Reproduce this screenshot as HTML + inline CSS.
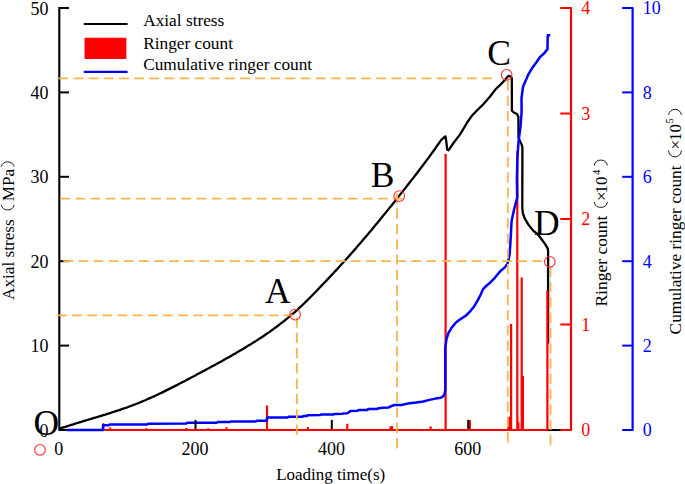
<!DOCTYPE html>
<html><head><meta charset="utf-8"><style>
html,body{margin:0;padding:0;background:#fff;}
svg{display:block;}
text{font-family:"Liberation Serif",serif;}
</style></head><body>
<svg width="685" height="484" viewBox="0 0 685 484">
<rect width="685" height="484" fill="#fff"/>
<path d="M69,8.0 H59.3 V430.0 H571" fill="none" stroke="#000" stroke-width="2.1"/>
<line x1="59.3" y1="345.6" x2="69" y2="345.6" stroke="#000" stroke-width="2"/>
<line x1="59.3" y1="261.2" x2="69" y2="261.2" stroke="#000" stroke-width="2"/>
<line x1="59.3" y1="176.8" x2="69" y2="176.8" stroke="#000" stroke-width="2"/>
<line x1="59.3" y1="92.4" x2="69" y2="92.4" stroke="#000" stroke-width="2"/>
<path d="M59.3,428.8 L61.3,428.1 L63.3,427.4 L65.3,426.8 L67.3,426.1 L69.3,425.5 L71.3,424.9 L73.3,424.3 L75.3,423.6 L77.3,423.0 L79.3,422.4 L81.3,421.8 L83.3,421.2 L85.3,420.6 L87.3,420.0 L89.3,419.4 L91.3,418.8 L93.3,418.2 L95.3,417.6 L97.3,417.0 L99.3,416.4 L101.3,415.8 L103.3,415.2 L105.3,414.6 L107.3,413.9 L109.3,413.3 L111.3,412.7 L113.3,412.0 L115.3,411.4 L117.3,410.7 L119.3,410.1 L121.3,409.4 L123.3,408.7 L125.3,408.0 L127.3,407.3 L129.3,406.5 L131.3,405.8 L133.3,405.0 L135.3,404.3 L137.3,403.5 L139.3,402.7 L141.3,401.9 L143.3,401.0 L145.3,400.2 L147.3,399.3 L149.3,398.4 L151.3,397.5 L153.3,396.6 L155.3,395.7 L157.3,394.8 L159.3,393.8 L161.3,392.9 L163.3,391.9 L165.3,390.9 L167.3,389.9 L169.3,388.9 L171.3,387.9 L173.3,386.9 L175.3,385.9 L177.3,384.9 L179.3,383.8 L181.3,382.8 L183.3,381.7 L185.3,380.7 L187.3,379.6 L189.3,378.6 L191.3,377.5 L193.3,376.5 L195.3,375.4 L197.3,374.3 L199.3,373.3 L201.3,372.2 L203.3,371.1 L205.3,370.1 L207.3,369.0 L209.3,367.9 L211.3,366.8 L213.3,365.7 L215.3,364.7 L217.3,363.6 L219.3,362.5 L221.3,361.4 L223.3,360.3 L225.3,359.1 L227.3,358.0 L229.3,356.9 L231.3,355.8 L233.3,354.6 L235.3,353.5 L237.3,352.3 L239.3,351.1 L241.3,349.9 L243.3,348.8 L245.3,347.6 L247.3,346.3 L249.3,345.1 L251.3,343.9 L253.3,342.6 L255.3,341.4 L257.3,340.1 L259.3,338.8 L261.3,337.5 L263.3,336.2 L265.3,334.8 L267.3,333.4 L269.3,332.1 L271.3,330.6 L273.3,329.2 L275.3,327.7 L277.3,326.3 L279.3,324.7 L281.3,323.2 L283.3,321.6 L285.3,320.0 L287.3,318.4 L289.3,316.7 L291.3,315.0 L293.3,313.3 L295.3,311.6 L297.3,309.8 L299.3,307.9 L301.3,306.1 L303.3,304.2 L305.3,302.2 L307.3,300.3 L309.3,298.3 L311.3,296.3 L313.3,294.2 L315.3,292.2 L317.3,290.1 L319.3,288.0 L321.3,285.9 L323.3,283.8 L325.3,281.7 L327.3,279.6 L329.3,277.5 L331.3,275.4 L333.3,273.3 L335.3,271.1 L337.3,269.0 L339.3,266.8 L341.3,264.6 L343.3,262.4 L345.3,260.2 L347.3,258.0 L349.3,255.7 L351.3,253.5 L353.3,251.2 L355.3,248.9 L357.3,246.6 L359.3,244.3 L361.3,242.0 L363.3,239.6 L365.3,237.3 L367.3,234.9 L369.3,232.5 L371.3,230.2 L373.3,227.7 L375.3,225.3 L377.3,222.9 L379.3,220.5 L381.3,218.0 L383.3,215.6 L385.3,213.1 L387.3,210.6 L389.3,208.1 L391.3,205.7 L393.3,203.2 L395.3,200.7 L397.3,198.2 L399.3,195.6 L401.3,193.1 L403.3,190.6 L405.3,188.1 L407.3,185.5 L409.3,183.0 L411.3,180.4 L413.3,177.9 L415.3,175.3 L417.3,172.7 L419.3,170.0 L421.3,167.4 L423.3,164.8 L425.3,162.1 L427.3,159.4 L429.3,156.7 L431.3,153.9 L433.3,151.2 L435.3,148.4 L437.3,145.5 L439.3,142.7 L441.3,139.8 L444.6,136.8 L445.5,136.4 L446.3,141.5 L447.2,149.8 L448.4,150.3 L453.5,143.0 L459.7,134.9 L462.2,130.9 L467.2,122.5 L472.3,115.2 L476.7,110.8 L483.3,104.2 L489.9,96.8 L495.6,89.3 L499.8,85.2 L503.1,81.9 L507.0,77.4 L508.7,75.9 L510.5,76.3 L511.8,78.2 L511.9,110.6 L513.8,112.5 L517.0,114.0 L518.4,117.0 L518.5,137.4 L520.0,141.5 L521.8,144.8 L522.4,148.0 L522.3,207.5 L522.8,213.0 L524.7,218.4 L528.4,224.6 L533.3,230.8 L537.1,233.6 L539.5,236.5 L544.5,243.2 L547.8,248.6 L548.1,251.5 L548.1,343.5" stroke="#000" stroke-width="2.3" fill="none" stroke-linejoin="round"/>
<path d="M103,430.0 H548.5" stroke="#ff0000" stroke-width="2.2" fill="none"/>
<path d="M103.3,430.0 V423.3 M110.2,430.0 V427.4 M146.4,430.0 V428.2 M186.3,430.0 V428.0 M208.2,430.0 V428.2 M226.5,430.0 V427.2 M267.0,430.0 V405.5 M307.9,430.0 V427.0 M347.3,430.0 V423.8 M390.5,430.0 V426.5 M392.0,430.0 V425.9 M430.6,430.0 V426.4 M445.6,430.0 V154.0 M469.9,430.0 V420.2 M508.4,430.0 V416.8 M509.9,430.0 V416.8 M511.1,430.0 V323.9 M517.3,430.0 V151.0 M518.3,430.0 V422.0 M521.7,430.0 V277.4 M522.9,430.0 V376.0 M547.4,430.0 V290.5" stroke="#ff0000" stroke-width="2.2" fill="none"/>
<path d="M66.7,430.0 L103.0,430.0 L103.0,425.3 L108.8,425.2 L109.5,424.6 L147.4,424.5 L148.0,423.7 L186.3,423.5 L187.0,422.8 L216.9,422.8 L217.5,422.1 L230.0,422.0 L230.6,421.6 L256.0,421.5 L256.6,420.8 L266.6,420.7 L267.3,417.5 L287.9,417.4 L288.4,416.8 L302.7,416.7 L303.3,416.0 L306.8,415.9 L307.3,415.2 L320.0,415.1 L320.6,414.6 L333.4,414.5 L334.0,413.9 L342.9,413.8 L343.4,413.4 L347.3,413.3 L350.8,410.9 L357.8,410.8 L358.4,410.1 L367.4,410.0 L368.0,409.0 L377.0,408.9 L377.6,408.6 L382.3,407.7 L388.4,407.5 L391.9,405.9 L394.4,405.0 L401.4,405.0 L407.5,403.6 L416.3,402.5 L423.3,401.5 L429.4,399.9 L435.5,398.6 L440.8,397.7 L443.4,396.2 L444.7,393.2 L445.3,390.3 L445.3,347.5 L446.4,339.3 L448.4,333.1 L451.5,327.9 L455.7,322.7 L459.8,319.6 L466.0,315.5 L470.1,311.4 L474.3,306.2 L478.1,299.6 L480.6,294.7 L483.1,289.1 L486.2,286.0 L489.9,282.9 L493.6,279.2 L497.3,274.8 L500.4,271.1 L504.8,267.4 L507.5,263.6 L508.5,259.9 L509.7,253.7 L510.8,236.0 L511.6,221.0 L514.0,209.8 L517.2,197.5 L516.9,178.6 L517.4,157.9 L518.4,143.5 L519.1,137.2 L520.5,126.9 L521.6,112.4 L521.5,98.0 L523.1,86.5 L528.1,74.9 L532.4,67.7 L536.1,62.7 L539.8,57.2 L544.1,53.4 L547.5,49.1 L547.7,35.3 L550.3,35.3" stroke="#0000ff" stroke-width="2.5" fill="none" stroke-linejoin="round"/>
<line x1="195.5" y1="429.0" x2="195.5" y2="419.9" stroke="#000" stroke-width="2"/>
<line x1="331.8" y1="429.0" x2="331.8" y2="419.9" stroke="#000" stroke-width="2"/>
<line x1="468.2" y1="429.0" x2="468.2" y2="419.9" stroke="#000" stroke-width="2"/>
<path d="M560.3,8.0 H571 V430.0 H560.3" fill="none" stroke="#ff0000" stroke-width="2.2" stroke-linejoin="round"/>
<line x1="560.3" y1="324.5" x2="571" y2="324.5" stroke="#ff0000" stroke-width="2"/>
<line x1="560.3" y1="219.0" x2="571" y2="219.0" stroke="#ff0000" stroke-width="2"/>
<line x1="560.3" y1="113.5" x2="571" y2="113.5" stroke="#ff0000" stroke-width="2"/>
<path d="M622.2,8.0 H632.6 V430.0 H622.2" fill="none" stroke="#0000ff" stroke-width="2.2" stroke-linejoin="round"/>
<line x1="622.2" y1="345.6" x2="632.6" y2="345.6" stroke="#0000ff" stroke-width="2"/>
<line x1="622.2" y1="261.2" x2="632.6" y2="261.2" stroke="#0000ff" stroke-width="2"/>
<line x1="622.2" y1="176.8" x2="632.6" y2="176.8" stroke="#0000ff" stroke-width="2"/>
<line x1="622.2" y1="92.4" x2="632.6" y2="92.4" stroke="#0000ff" stroke-width="2"/>
<path d="M57.0,315.4 H294.0" stroke="#fdb44e" stroke-width="1.8" stroke-dasharray="9.8 5.33" fill="none"/>
<path d="M60.3,198.7 H402.6" stroke="#fdb44e" stroke-width="1.8" stroke-dasharray="9.8 5.33" fill="none"/>
<path d="M58.5,78.35 H492.5" stroke="#fdb44e" stroke-width="1.8" stroke-dasharray="9.8 5.33" fill="none"/>
<path d="M63.3,261.05 H543.0" stroke="#fdb44e" stroke-width="1.8" stroke-dasharray="9.8 5.33" fill="none"/>
<path d="M296.9,317.4 V434.8" stroke="#fdb44e" stroke-width="1.8" stroke-dasharray="10.3 5.0" fill="none"/>
<path d="M396.95,193.3 V448.4" stroke="#fdb44e" stroke-width="1.8" stroke-dasharray="10.3 5.0" fill="none"/>
<path d="M507.8,80.4 V443.2" stroke="#fdb44e" stroke-width="1.8" stroke-dasharray="10.3 5.0" fill="none"/>
<path d="M550.5,266.7 V445.0" stroke="#fdb44e" stroke-width="1.8" stroke-dasharray="10.3 5.0" fill="none"/>
<circle cx="295.05" cy="314.6" r="5.35" fill="none" stroke="#ff2e2e" stroke-width="1.1"/>
<circle cx="399.2" cy="196.1" r="5.35" fill="none" stroke="#ff2e2e" stroke-width="1.1"/>
<circle cx="506.6" cy="74.8" r="5.35" fill="none" stroke="#ff2e2e" stroke-width="1.1"/>
<circle cx="549.8" cy="261.8" r="5.35" fill="none" stroke="#ff2e2e" stroke-width="1.1"/>
<circle cx="40.0" cy="449.8" r="5.35" fill="none" stroke="#ff2e2e" stroke-width="1.1"/>
<text x="48.6" y="436.6" font-size="18" text-anchor="end" fill="#000" >0</text>
<text x="48.6" y="352.2" font-size="18" text-anchor="end" fill="#000" >10</text>
<text x="48.6" y="267.8" font-size="18" text-anchor="end" fill="#000" >20</text>
<text x="48.6" y="183.4" font-size="18" text-anchor="end" fill="#000" >30</text>
<text x="48.6" y="99.0" font-size="18" text-anchor="end" fill="#000" >40</text>
<text x="48.6" y="14.6" font-size="18" text-anchor="end" fill="#000" >50</text>
<text x="58.7" y="455.2" font-size="18" text-anchor="middle" fill="#000" >0</text>
<text x="195.1" y="455.2" font-size="18" text-anchor="middle" fill="#000" >200</text>
<text x="331.4" y="455.2" font-size="18" text-anchor="middle" fill="#000" >400</text>
<text x="467.8" y="455.2" font-size="18" text-anchor="middle" fill="#000" >600</text>
<text x="581.2" y="436.1" font-size="18" text-anchor="start" fill="#ff0000" >0</text>
<text x="581.2" y="330.6" font-size="18" text-anchor="start" fill="#ff0000" >1</text>
<text x="581.2" y="225.1" font-size="18" text-anchor="start" fill="#ff0000" >2</text>
<text x="581.2" y="119.6" font-size="18" text-anchor="start" fill="#ff0000" >3</text>
<text x="581.2" y="14.1" font-size="18" text-anchor="start" fill="#ff0000" >4</text>
<text x="642.7" y="436.3" font-size="18" text-anchor="start" fill="#0000ff" >0</text>
<text x="642.7" y="351.9" font-size="18" text-anchor="start" fill="#0000ff" >2</text>
<text x="642.7" y="267.5" font-size="18" text-anchor="start" fill="#0000ff" >4</text>
<text x="642.7" y="183.1" font-size="18" text-anchor="start" fill="#0000ff" >6</text>
<text x="642.7" y="98.7" font-size="18" text-anchor="start" fill="#0000ff" >8</text>
<text x="642.7" y="14.3" font-size="18" text-anchor="start" fill="#0000ff" >10</text>
<text x="264.9" y="302.9" font-size="35.5" text-anchor="start" fill="#000" >A</text>
<text x="370.8" y="186.8" font-size="35.5" text-anchor="start" fill="#000" >B</text>
<text x="487.3" y="65.2" font-size="35.5" text-anchor="start" fill="#000" >C</text>
<text x="534.1" y="234.5" font-size="35.5" text-anchor="start" fill="#000" >D</text>
<text x="33.6" y="435.4" font-size="35.5" text-anchor="start" fill="#000" >O</text>
<line x1="83.8" y1="24" x2="127.6" y2="24" stroke="#000" stroke-width="2.2"/>
<rect x="84.5" y="37.8" width="41.9" height="21.2" rx="1" fill="#ff0000"/>
<line x1="83.8" y1="71.9" x2="127.6" y2="71.9" stroke="#0000ff" stroke-width="2.2"/>
<text x="143.2" y="26.0" font-size="17.3" text-anchor="start" fill="#000" >Axial stress</text>
<text x="143.2" y="49.0" font-size="17.3" text-anchor="start" fill="#000" >Ringer count</text>
<text x="143.2" y="70.4" font-size="17.3" text-anchor="start" fill="#000" >Cumulative ringer count</text>
<text x="276.2" y="479.6" font-size="17" text-anchor="start" fill="#000" >Loading time(s)</text>
<g transform="translate(14,300.0) rotate(-90)">
<text x="0" y="0" font-size="17.2">Axial stress</text>
<text x="98.7" y="0" font-size="17.2">MPa</text>
<path d="M95.1,-12.8 A6.72,6.72 0 0 0 95.1,0.2 M133.4,-12.8 A6.84,6.84 0 0 1 133.4,0.2" fill="none" stroke="#000" stroke-width="0.9"/>
</g>
<g transform="translate(607.2,306.6) rotate(-90)">
<text x="0" y="0" font-size="17.5">Ringer count</text>
<text x="105.6" y="0" font-size="17">×</text>
<text x="113.2" y="0" font-size="17">10</text>
<text x="131.6" y="-7.6" font-size="10.5">4</text>
<path d="M104.7,-13.0 A6.71,6.71 0 0 0 104.7,0.2 M141.1,-13.0 A6.73,6.73 0 0 1 141.1,0.2" fill="none" stroke="#000" stroke-width="0.9"/>
</g>
<g transform="translate(681.4,334.4) rotate(-90)">
<text x="0" y="0" font-size="17.3">Cumulative ringer count</text>
<text x="184.9" y="0" font-size="17">×</text>
<text x="193.3" y="0" font-size="17">10</text>
<text x="210.9" y="-8.2" font-size="10.5">5</text>
<path d="M183.9,-12.8 A6.40,6.40 0 0 0 183.9,0.0 M219.6,-12.8 A6.47,6.47 0 0 1 219.6,0.0" fill="none" stroke="#000" stroke-width="0.9"/>
</g>
</svg>
</body></html>
